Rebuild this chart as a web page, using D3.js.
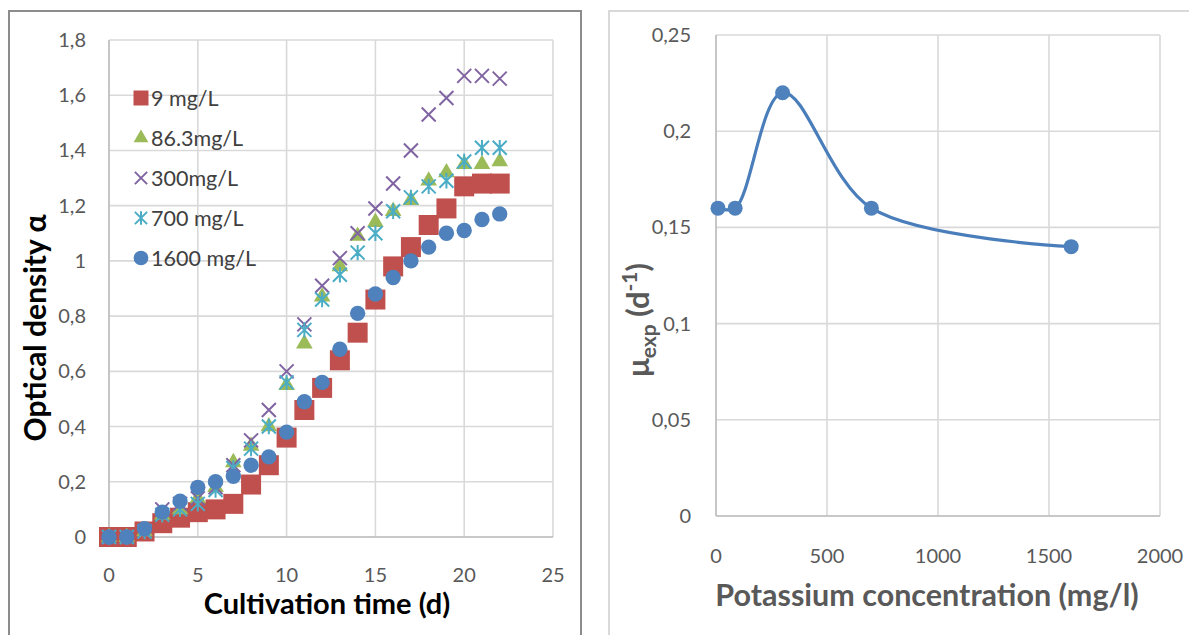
<!DOCTYPE html>
<html>
<head>
<meta charset="utf-8">
<script src="https://cdn.jsdelivr.net/npm/d3@7"></script>
<style>
    body { margin: 0; background: #fff; }
    svg { display: block; font-family: Lato, "Open Sans", sans-serif; }
</style>
</head>
<body>
<svg width="1189" height="635"></svg>
<script>
"use strict";
// left chart: optical density vs cultivation time
var days = [0, 1, 2, 3, 4, 5, 6, 7, 8, 9, 10, 11, 12, 13, 14, 15, 16, 17, 18, 19, 20, 21, 22];
var od9 = [0, 0, 0.02, 0.05, 0.07, 0.09, 0.10, 0.12, 0.19, 0.26, 0.36, 0.46, 0.54, 0.64, 0.74, 0.86, 0.98, 1.05, 1.13, 1.19, 1.27, 1.28, 1.28];
var od86 = [0, 0, 0.02, 0.08, 0.10, 0.14, 0.18, 0.27, 0.33, 0.40, 0.55, 0.70, 0.87, 0.98, 1.09, 1.14, 1.18, 1.22, 1.29, 1.32, 1.35, 1.35, 1.36];
var od300 = [0, 0, 0.02, 0.10, 0.12, 0.14, 0.18, 0.26, 0.35, 0.46, 0.60, 0.77, 0.91, 1.01, 1.10, 1.19, 1.28, 1.40, 1.53, 1.59, 1.67, 1.67, 1.66];
var od700 = [0, 0, 0.02, 0.08, 0.10, 0.12, 0.17, 0.25, 0.32, 0.40, 0.56, 0.75, 0.86, 0.95, 1.03, 1.10, 1.18, 1.23, 1.27, 1.29, 1.36, 1.41, 1.41];
var od1600 = [0, 0, 0.03, 0.09, 0.13, 0.18, 0.20, 0.22, 0.26, 0.29, 0.38, 0.49, 0.56, 0.68, 0.81, 0.88, 0.94, 1.00, 1.05, 1.10, 1.11, 1.15, 1.17];
var seriesNames = ["9 mg/L", "86.3mg/L", "300mg/L", "700 mg/L", "1600 mg/L"];
var dayTicks = [0, 5, 10, 15, 20, 25];
var odTicks = [0, 0.2, 0.4, 0.6, 0.8, 1, 1.2, 1.4, 1.6, 1.8];

// right chart: growth rate vs potassium concentration
var concentrations = [9, 86.3, 300, 700, 1600];
var muExp = [0.16, 0.16, 0.22, 0.16, 0.14];
var concTicks = [0, 500, 1000, 1500, 2000];
var muTicks = [0, 0.05, 0.1, 0.15, 0.2, 0.25];

var svg = d3.select("svg");
var locale = d3.formatLocale({decimal: ",", thousands: "", grouping: [3], currency: ["", ""]});
var fmt = locale.format("~g");

var symbolX = {
    draw: function (ctx, size) {
        var r = Math.sqrt(size) / 2;
        ctx.moveTo(-r, -r); ctx.lineTo(r, r);
        ctx.moveTo(r, -r); ctx.lineTo(-r, r);
    }
};
var symbolAsterisk = {
    draw: function (ctx, size) {
        var r = Math.sqrt(size) / 2;
        ctx.moveTo(-r, -r); ctx.lineTo(r, r);
        ctx.moveTo(r, -r); ctx.lineTo(-r, r);
        ctx.moveTo(0, -r * 1.1); ctx.lineTo(0, r * 1.1);
    }
};

var styles = [
    {data: od9, color: "#C0504D", type: d3.symbolSquare, size: 400, lsize: 225, stroke: false},
    {data: od86, color: "#9BBB59", type: d3.symbolTriangle, size: 120, lsize: 95, stroke: false},
    {data: od300, color: "#8064A2", type: symbolX, size: 196, lsize: 150, stroke: true},
    {data: od700, color: "#4BACC6", type: symbolAsterisk, size: 196, lsize: 150, stroke: true},
    {data: od1600, color: "#4F81BD", type: d3.symbolCircle, size: 185, lsize: 170, stroke: false}
];

// frames
svg.append("rect").attr("x", 9).attr("y", 11).attr("width", 572).attr("height", 640)
    .attr("fill", "none").attr("stroke", "#8c8c8c").attr("stroke-width", 2);
svg.append("rect").attr("x", 609).attr("y", 11).attr("width", 600).attr("height", 640)
    .attr("fill", "none").attr("stroke", "#d9d9d9").attr("stroke-width", 2);

function drawFrame(x, y, xTicks, yTicks, xLabelY, yLabelX) {
    var x0 = x.range()[0], x1 = x.range()[1], y0 = y.range()[0], y1 = y.range()[1];
    var g = svg.append("g");
    g.selectAll(".vg").data(xTicks).enter().append("line")
        .attr("x1", function (d) { return x(d); }).attr("x2", function (d) { return x(d); })
        .attr("y1", y0).attr("y2", y1)
        .attr("stroke", "#d9d9d9").attr("stroke-width", 1.6);
    g.selectAll(".hg").data(yTicks).enter().append("line")
        .attr("x1", x0).attr("x2", x1)
        .attr("y1", function (d) { return y(d); }).attr("y2", function (d) { return y(d); })
        .attr("stroke", "#d9d9d9").attr("stroke-width", 1.6);
    g.append("line").attr("x1", x0).attr("x2", x0).attr("y1", y0).attr("y2", y1)
        .attr("stroke", "#bfbfbf").attr("stroke-width", 1.6);
    g.append("line").attr("x1", x0).attr("x2", x1).attr("y1", y0).attr("y2", y0)
        .attr("stroke", "#bfbfbf").attr("stroke-width", 1.6);

    g.selectAll(".xl").data(xTicks).enter().append("text")
        .attr("x", function (d) { return x(d); }).attr("y", xLabelY)
        .attr("text-anchor", "middle").attr("dy", "0.35em")
        .attr("font-size", 20).attr("fill", "#595959")
        .text(fmt);
    g.selectAll(".yl").data(yTicks).enter().append("text")
        .attr("x", yLabelX).attr("y", function (d) { return y(d); })
        .attr("text-anchor", "end").attr("dy", "0.35em")
        .attr("font-size", 20).attr("fill", "#595959")
        .text(fmt);
}

// ---------- left chart ----------
var xL = d3.scaleLinear().domain([0, 25]).range([109, 553]);
var yL = d3.scaleLinear().domain([0, 1.8]).range([537, 40]);
drawFrame(xL, yL, dayTicks, odTicks, 575, 86);

styles.forEach(function (s) {
    var sym = d3.symbol().type(s.type).size(s.size);
    svg.append("g").selectAll("path").data(s.data).enter().append("path")
        .attr("transform", function (d, i) { return "translate(" + xL(days[i]) + "," + yL(d) + ")"; })
        .attr("d", sym)
        .attr("fill", s.stroke ? "none" : s.color)
        .attr("stroke", s.stroke ? s.color : "none")
        .attr("stroke-width", 2);
});

var legend = svg.append("g").selectAll("g").data(styles).enter().append("g")
    .attr("transform", function (d, i) { return "translate(141," + (98 + i * 40) + ")"; });
legend.append("path")
    .attr("d", function (s) { return d3.symbol().type(s.type).size(s.lsize)(); })
    .attr("fill", function (s) { return s.stroke ? "none" : s.color; })
    .attr("stroke", function (s) { return s.stroke ? s.color : "none"; })
    .attr("stroke-width", 2);
legend.append("text")
    .attr("x", 10).attr("dy", "0.35em")
    .attr("font-size", 21.5).attr("fill", "#404040")
    .text(function (s, i) { return seriesNames[i]; });

svg.append("text").attr("x", 327).attr("y", 614)
    .attr("text-anchor", "middle").attr("font-size", 29).attr("font-weight", "bold").attr("fill", "#000")
    .text("Cultivation time (d)");
svg.append("text").attr("transform", "translate(46,328) rotate(-90)")
    .attr("text-anchor", "middle").attr("font-size", 30).attr("font-weight", "bold").attr("fill", "#000")
    .text("Optical density α");

// ---------- right chart ----------
var xR = d3.scaleLinear().domain([0, 2000]).range([716, 1160]);
var yR = d3.scaleLinear().domain([0, 0.25]).range([516, 35]);
drawFrame(xR, yR, concTicks, muTicks, 556, 691);

var line = d3.line()
    .x(function (d, i) { return xR(concentrations[i]); })
    .y(function (d) { return yR(d); })
    .curve(d3.curveCatmullRom.alpha(0.5));
svg.append("path").datum(muExp).attr("d", line)
    .attr("fill", "none").attr("stroke", "#4A7EBB").attr("stroke-width", 3.2);
svg.append("g").selectAll("circle").data(muExp).enter().append("circle")
    .attr("cx", function (d, i) { return xR(concentrations[i]); })
    .attr("cy", function (d) { return yR(d); })
    .attr("r", 7.5).attr("fill", "#4F81BD");

svg.append("text").attr("x", 927).attr("y", 606)
    .attr("text-anchor", "middle").attr("font-size", 30.5).attr("font-weight", "bold").attr("fill", "#595959")
    .text("Potassium concentration (mg/l)");
var yt = svg.append("text").attr("transform", "translate(649,320) rotate(-90)")
    .attr("text-anchor", "middle").attr("font-size", 31).attr("font-weight", "bold").attr("fill", "#595959");
yt.append("tspan").text("μ");
yt.append("tspan").attr("font-size", 21).attr("dy", 7).text("exp");
yt.append("tspan").attr("dy", -7).text(" (d");
yt.append("tspan").attr("font-size", 21).attr("dy", -12).text("-1");
yt.append("tspan").attr("dy", 12).text(")");
</script>
</body>
</html>
